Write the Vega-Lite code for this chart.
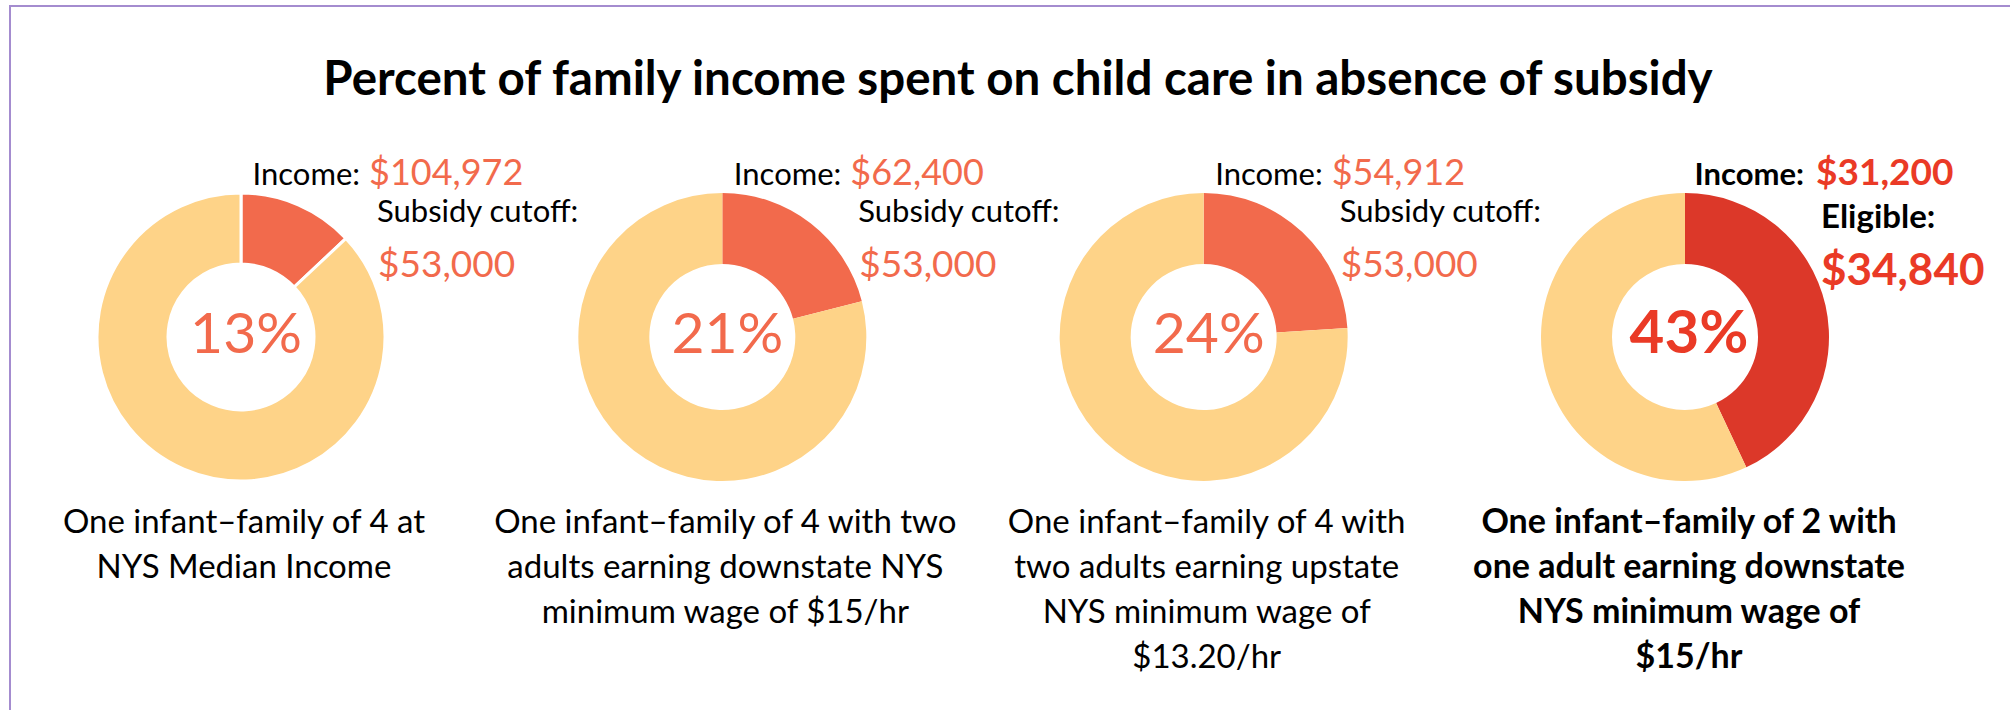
{
  "$schema": "https://vega.github.io/schema/vega-lite/v6.json",
  "width": 2000,
  "height": 704,
  "autosize": {"type": "none"},
  "padding": {"left": 10, "top": 6, "right": 0, "bottom": 0},
  "background": "white",
  "title": {
    "text": "Percent of family income spent on child care in absence of subsidy",
    "font": "Lato", "fontSize": 47.5, "fontWeight": "bold", "color": "#000000",
    "anchor": "middle", "baseline": "alphabetic", "offset": 0, "dy": 136, "dx": 8
  },
  "config": {
    "view": {"stroke": "#A48CCF", "strokeWidth": 2, "strokeDash": [2000, 2704, 704]},
    "font": "Lato"
  },
  "data": {
    "values": [
      {"family": "A", "description": "One infant–family of 4 at\nNYS Median Income", "income": 104972, "limitLabel": "Subsidy cutoff:", "limit": 53000, "eligible": false, "careShare": 0.13, "otherShare": 0.87},
      {"family": "B", "description": "One infant–family of 4 with two\nadults earning downstate NYS\nminimum wage of $15/hr", "income": 62400, "limitLabel": "Subsidy cutoff:", "limit": 53000, "eligible": false, "careShare": 0.21, "otherShare": 0.79},
      {"family": "C", "description": "One infant–family of 4 with\ntwo adults earning upstate\nNYS minimum wage of\n$13.20/hr", "income": 54912, "limitLabel": "Subsidy cutoff:", "limit": 53000, "eligible": false, "careShare": 0.24, "otherShare": 0.76},
      {"family": "D", "description": "One infant–family of 2 with\none adult earning downstate\nNYS minimum wage of\n$15/hr", "income": 31200, "limitLabel": "Eligible:", "limit": 34840, "eligible": true, "careShare": 0.43, "otherShare": 0.57}
    ]
  },
  "encoding": {
    "x": {"field": "family", "type": "nominal", "axis": null, "sort": null, "scale": {"type": "point", "padding": 0, "range": [231, 1675]}}
  },
  "layer": [
    {
      "transform": [
        {"fold": ["careShare", "otherShare"], "as": ["segment", "share"]},
        {"stack": "share", "groupby": ["family"], "sort": [{"field": "segment", "order": "ascending"}], "as": ["s0", "s1"]}
      ],
      "mark": {"type": "arc", "outerRadius": 144, "innerRadius": 73, "yOffset": -21, "stroke": "#FFFFFF"},
      "encoding": {
        "theta": {"field": "s0", "type": "quantitative", "stack": null, "scale": {"domain": [0, 1]}},
        "theta2": {"field": "s1"},
        "color": {
          "condition": {"test": "datum.eligible && datum.segment === 'careShare'", "value": "#DC3829"},
          "field": "segment", "type": "nominal", "legend": null,
          "scale": {"domain": ["careShare", "otherShare"], "range": ["#F26A4C", "#FED388"]}
        },
        "strokeWidth": {"condition": {"test": "datum.family === 'A'", "value": 3}, "value": 0}
      }
    },
    {
      "transform": [{"filter": "!datum.eligible"}],
      "mark": {"type": "text", "font": "Lato", "fontSize": 31, "align": "right", "baseline": "alphabetic", "dx": 119, "dy": -173, "color": "#000000"},
      "encoding": {"text": {"value": "Income:"}}
    },
    {
      "transform": [{"filter": "!datum.eligible"}],
      "mark": {"type": "text", "font": "Lato", "fontSize": 36, "align": "left", "baseline": "alphabetic", "dx": 128, "dy": -173, "color": "#F26A4C"},
      "encoding": {"text": {"field": "income", "type": "quantitative", "format": "$,"}}
    },
    {
      "transform": [{"filter": "!datum.eligible"}],
      "mark": {"type": "text", "font": "Lato", "fontSize": 31, "align": "left", "baseline": "alphabetic", "dx": 136, "dy": -136, "color": "#000000"},
      "encoding": {"text": {"field": "limitLabel", "type": "nominal"}}
    },
    {
      "transform": [{"filter": "!datum.eligible"}],
      "mark": {"type": "text", "font": "Lato", "fontSize": 37, "align": "left", "baseline": "alphabetic", "dx": 137, "dy": -81, "color": "#F26A4C"},
      "encoding": {"text": {"field": "limit", "type": "quantitative", "format": "$,"}}
    },
    {
      "transform": [{"filter": "!datum.eligible"}],
      "mark": {"type": "text", "font": "Lato", "fontSize": 57, "align": "center", "baseline": "alphabetic", "dx": 5, "dy": -5, "color": "#F26A4C"},
      "encoding": {"text": {"field": "careShare", "type": "quantitative", "format": ".0%"}}
    },
    {
      "transform": [{"filter": "!datum.eligible"}],
      "mark": {"type": "text", "font": "Lato", "fontSize": 33, "align": "center", "baseline": "alphabetic", "dx": 3, "dy": 175, "lineHeight": 45, "lineBreak": "\n", "color": "#000000"},
      "encoding": {"text": {"field": "description", "type": "nominal"}}
    },
    {
      "transform": [{"filter": "datum.eligible"}],
      "mark": {"type": "text", "font": "Lato", "fontSize": 31, "fontWeight": "bold", "align": "right", "baseline": "alphabetic", "dx": 119, "dy": -173, "color": "#000000"},
      "encoding": {"text": {"value": "Income:"}}
    },
    {
      "transform": [{"filter": "datum.eligible"}],
      "mark": {"type": "text", "font": "Lato", "fontSize": 37, "fontWeight": "bold", "align": "left", "baseline": "alphabetic", "dx": 131, "dy": -173, "color": "#EA3A26"},
      "encoding": {"text": {"field": "income", "type": "quantitative", "format": "$,"}}
    },
    {
      "transform": [{"filter": "datum.eligible"}],
      "mark": {"type": "text", "font": "Lato", "fontSize": 33, "fontWeight": "bold", "align": "left", "baseline": "alphabetic", "dx": 136, "dy": -130, "color": "#000000"},
      "encoding": {"text": {"field": "limitLabel", "type": "nominal"}}
    },
    {
      "transform": [{"filter": "datum.eligible"}],
      "mark": {"type": "text", "font": "Lato", "fontSize": 44, "fontWeight": "bold", "align": "left", "baseline": "alphabetic", "dx": 136, "dy": -73, "color": "#EA3A26"},
      "encoding": {"text": {"field": "limit", "type": "quantitative", "format": "$,"}}
    },
    {
      "transform": [{"filter": "datum.eligible"}],
      "mark": {"type": "text", "font": "Lato", "fontSize": 60, "fontWeight": "bold", "align": "center", "baseline": "alphabetic", "dx": 4, "dy": -5, "color": "#EA3A26"},
      "encoding": {"text": {"field": "careShare", "type": "quantitative", "format": ".0%"}}
    },
    {
      "transform": [{"filter": "datum.eligible"}],
      "mark": {"type": "text", "font": "Lato", "fontSize": 34, "fontWeight": "bold", "align": "center", "baseline": "alphabetic", "dx": 4, "dy": 175, "lineHeight": 45, "lineBreak": "\n", "color": "#000000"},
      "encoding": {"text": {"field": "description", "type": "nominal"}}
    }
  ]
}
